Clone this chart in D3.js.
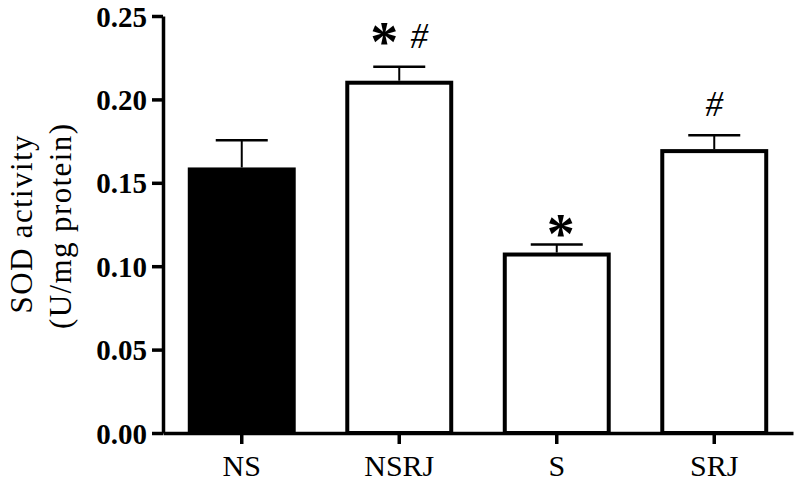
<!DOCTYPE html>
<html>
<head>
<meta charset="utf-8">
<script src="https://cdn.jsdelivr.net/npm/d3@7"></script>
<style>
  body { margin: 0; background: #fff; }
  text { font-family: 'Liberation Serif', 'Times New Roman', serif; fill: #000; }
</style>
</head>
<body>
<div class="chart"></div>
<script>
const groups = ['NS', 'NSRJ', 'S', 'SRJ'];
const means = [0.158, 0.21, 0.107, 0.169];
const errors = [0.0175, 0.0095, 0.006, 0.0095];
const stars = ['', '*', '*', ''];
const hashes = ['', '#', '', '#'];
const fills = ['#000', '#fff', '#fff', '#fff'];
const yTicks = [0, 0.05, 0.1, 0.15, 0.2, 0.25];

const width = 800;
const height = 483;
const margin = { top: 16, right: 7, bottom: 50, left: 163 };

const svg = d3
  .select('.chart')
  .append('svg')
  .attr('width', width)
  .attr('height', height);

const xScale = d3
  .scaleBand()
  .domain(groups)
  .range([margin.left, width - margin.right])
  .paddingInner(0.34)
  .paddingOuter(0.17);

const yScale = d3
  .scaleLinear()
  .domain([0, 0.25])
  .range([height - margin.bottom, margin.top]);

// bars
svg
  .selectAll('rect.bar')
  .data(means)
  .join('rect')
  .attr('class', 'bar')
  .attr('x', (d, i) => xScale(groups[i]))
  .attr('y', (d) => yScale(d))
  .attr('width', xScale.bandwidth())
  .attr('height', (d) => yScale(0) - yScale(d))
  .attr('fill', (d, i) => fills[i])
  .attr('stroke', '#000')
  .attr('stroke-width', 4);

// error bars (upper only)
const cx = (i) => xScale(groups[i]) + xScale.bandwidth() / 2;
const capY = (i) => yScale(means[i] + errors[i]);
svg
  .selectAll('line.err')
  .data(means)
  .join('line')
  .attr('class', 'err')
  .attr('x1', (d, i) => cx(i))
  .attr('x2', (d, i) => cx(i))
  .attr('y1', (d) => yScale(d) - 2)
  .attr('y2', (d, i) => capY(i))
  .attr('stroke', '#000')
  .attr('stroke-width', 2);

svg
  .selectAll('line.cap')
  .data(means)
  .join('line')
  .attr('class', 'cap')
  .attr('x1', (d, i) => cx(i) - 26)
  .attr('x2', (d, i) => cx(i) + 26)
  .attr('y1', (d, i) => capY(i))
  .attr('y2', (d, i) => capY(i))
  .attr('stroke', '#000')
  .attr('stroke-width', 2.5);

// significance marks
svg
  .selectAll('text.star')
  .data(means)
  .join('text')
  .attr('class', 'star')
  .attr('x', (d, i) => cx(i) + (hashes[i] ? -15 : 4))
  .attr('y', (d, i) => capY(i) + (hashes[i] ? -6 : 8))
  .attr('text-anchor', 'middle')
  .attr('font-size', 56)
  .attr('font-weight', 'bold')
  .text((d, i) => stars[i]);

svg
  .selectAll('text.hash')
  .data(means)
  .join('text')
  .attr('class', 'hash')
  .attr('x', (d, i) => cx(i) + (stars[i] ? 20 : 0))
  .attr('y', (d, i) => capY(i) - 19)
  .attr('text-anchor', 'middle')
  .attr('font-size', 35)
  .attr('font-style', 'italic')
  .text((d, i) => hashes[i]);

// y axis
const yAxis = d3
  .axisLeft(yScale)
  .tickValues(yTicks)
  .tickFormat(d3.format('.2f'))
  .tickSize(11)
  .tickSizeOuter(0)
  .tickPadding(5);
const gy = svg
  .append('g')
  .attr('class', 'axis y-axis')
  .attr('transform', `translate(${margin.left}, 0)`)
  .call(yAxis);
gy.select('.domain').attr('stroke-width', 3.5);
gy.selectAll('.tick line').attr('stroke-width', 3.5);
gy.selectAll('.tick text')
  .attr('font-size', 29)
  .attr('font-weight', 'bold')
  .attr('font-family', "'Liberation Serif', serif")
  .attr('dy', '0.35em');

// x axis
const xAxis = d3.axisBottom(xScale).tickSize(11).tickSizeOuter(0);
const gx = svg
  .append('g')
  .attr('class', 'axis x-axis')
  .attr('transform', `translate(0, ${yScale(0)})`)
  .call(xAxis);
gx.select('.domain').attr('stroke-width', 3.5);
gx.selectAll('.tick line').attr('stroke-width', 3.5);
gx.selectAll('.tick text')
  .attr('font-size', 30)
  .attr('font-family', "'Liberation Serif', serif")
  .attr('y', 43)
  .attr('dy', 0);

// y axis title
const midY = (margin.top + yScale(0)) / 2;
const yTitle = svg
  .append('text')
  .attr('transform', 'rotate(-90)')
  .attr('text-anchor', 'middle')
  .attr('font-size', 31);
yTitle.append('tspan')
  .attr('x', -midY).attr('y', 32)
  .attr('textLength', 178).attr('lengthAdjust', 'spacing')
  .text('SOD activity');
yTitle.append('tspan')
  .attr('x', -midY - 2).attr('y', 71)
  .attr('textLength', 205).attr('lengthAdjust', 'spacing')
  .text('(U/mg protein)');
</script>
</body>
</html>
